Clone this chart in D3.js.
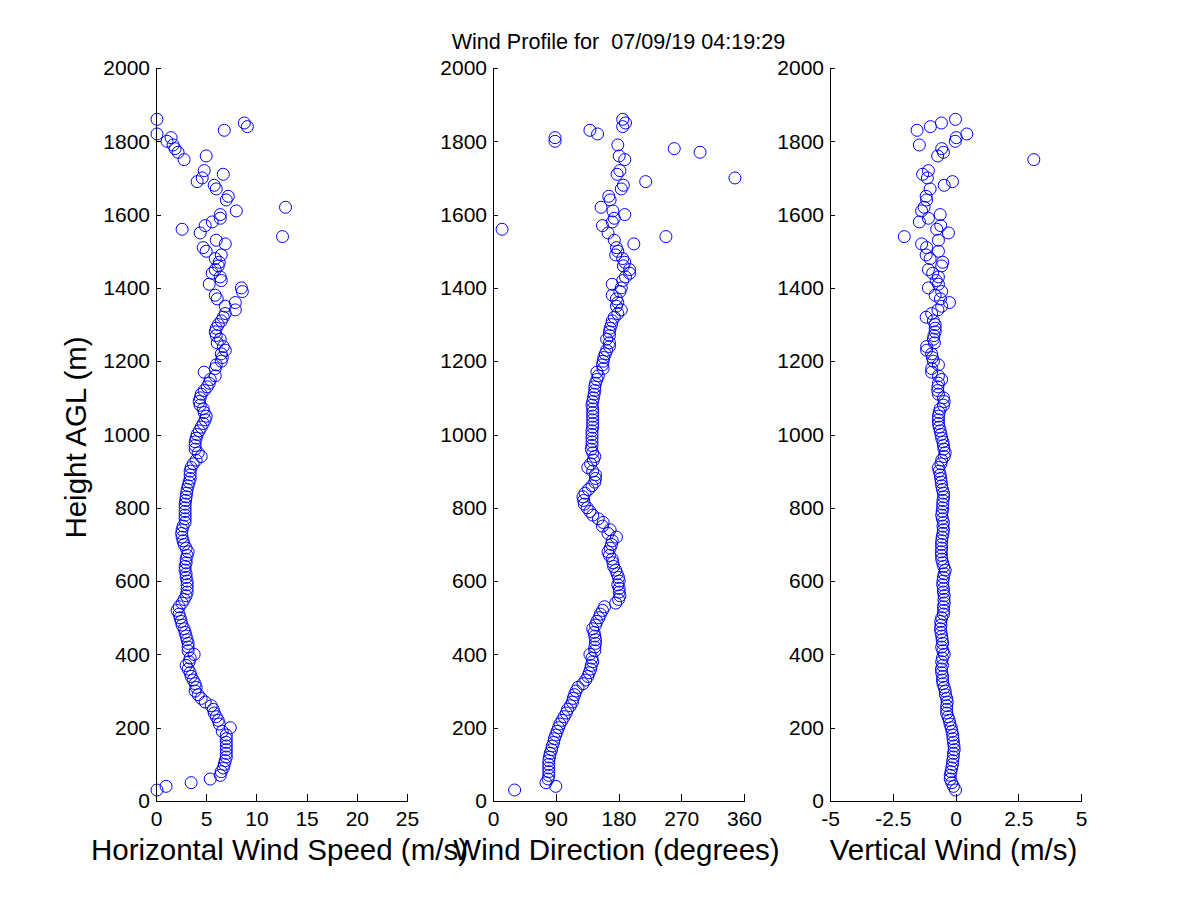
<!DOCTYPE html>
<html lang="en">
<head>
    <meta charset="UTF-8">
    <title>Wind Profile</title>
    <script src="https://d3js.org/d3.v7.min.js"></script>
    <style>
        body {
            margin: 0;
            background: #fff;
        }
        svg text {
            font-family: "Liberation Sans", Arial, Helvetica, sans-serif;
            fill: #000;
        }
        .axis path, .axis line {
            stroke: #000;
            shape-rendering: crispEdges;
        }
    </style>
</head>
<body>
    <div id="chart"></div>

    <script>
        // Heights AGL (m), one row per 100 m (some gates have no data)
        const heights = [
            30, 40, 50, 60, 70, 80, 90, 100,
            110, 120, 130, 140, 150, 160, 170, 180, 190, 200,
            210, 220, 230, 240, 250, 260, 270, 280, 290, 300,
            310, 320, 330, 340, 350, 360, 370, 380, 390, 400,
            410, 420, 430, 440, 450, 460, 470, 480, 490, 500,
            510, 520, 530, 540, 550, 560, 570, 580, 590, 600,
            610, 620, 630, 640, 650, 660, 670, 680, 690, 700,
            710, 720, 730, 740, 750, 760, 770, 780, 790, 800,
            810, 820, 830, 840, 850, 860, 870, 880, 890, 900,
            910, 920, 930, 940, 950, 960, 970, 980, 990, 1000,
            1010, 1020, 1030, 1040, 1050, 1060, 1070, 1080, 1090, 1100,
            1110, 1120, 1130, 1140, 1150, 1160, 1170, 1180, 1190, 1200,
            1210, 1220, 1230, 1240, 1250, 1260, 1270, 1280, 1290, 1300,
            1310, 1320, 1330, 1340, 1350, 1360, 1370, 1380, 1390, 1400,
            1410, 1420, 1430, 1440, 1450, 1460, 1470, 1480, 1490, 1500,
            1510, 1520, 1530, 1540, 1550, 1560, 1570, 1580, 1590, 1600,
            1610, 1620, 1640, 1650, 1670, 1680, 1690, 1700,
            1710, 1720, 1750, 1760, 1770, 1780, 1790, 1800,
            1810, 1820, 1830, 1840, 1850, 1860
        ];

        // Horizontal wind speed (m/s)
        const speed = [
            0.1, 1.0, 3.5, 5.4, 6.4, 6.5, 6.7, 6.8,
            6.9, 7.0, 7.0, 7.0, 7.0, 7.0, 7.0, 7.0, 6.6, 7.4,
            6.3, 6.2, 6.0, 5.8, 5.7, 5.5, 4.9, 4.5, 4.2, 3.9,
            4.0, 3.9, 3.7, 3.5, 3.4, 3.2, 3.0, 3.3, 3.4, 3.8,
            3.2, 3.2, 3.2, 3.1, 3.0, 2.9, 2.8, 2.6, 2.5, 2.4,
            2.3, 2.1, 2.3, 2.6, 2.8, 3.0, 3.1, 3.1, 3.1, 3.1,
            3.0, 3.0, 2.9, 2.9, 3.0, 3.0, 3.1, 3.2, 3.0, 2.8,
            2.7, 2.6, 2.55, 2.6, 2.7, 2.9, 2.9, 2.9, 2.9, 2.9,
            2.9, 2.95, 3.0, 3.05, 3.1, 3.2, 3.3, 3.4, 3.4, 3.4,
            3.5, 3.7, 4.0, 4.5, 4.2, 3.9, 3.9, 3.9, 4.0, 4.1,
            4.3, 4.5, 4.7, 4.9, 5.0, 4.8, 4.7, 4.4, 4.3, 4.4,
            4.5, 4.8, 5.1, 5.3, 5.4, 5.9, 4.8, 5.9, 6.0, 6.5,
            6.6, 6.5, 6.9, 6.7, 6.1, 6.4, 6.0, 5.9, 6.0, 6.2,
            6.5, 6.7, 6.9, 7.9, 6.9, 7.9, 6.1, 5.9, 8.6, 8.5,
            5.3, 6.5, 6.4, 5.6, 5.9, 6.2, 6.3, 5.9, 6.5, 5.0,
            4.7, 6.9, 6.0, 12.6, 4.4, 2.6, 4.9, 5.6, 6.4, 6.4,
            8.0, 12.9, 7.0, 7.2, 6.0, 5.8, 4.1, 4.6,
            6.7, 4.8, 2.8, 5.0, 2.2, 1.9, 1.7, 1.1,
            1.5, 0.1, 6.8, 9.1, 8.8, 0.1
        ];

        // Wind direction (degrees)
        const direction = [
            31, 90, 76, 79, 80, 80, 80, 80,
            80, 81, 82, 84, 85, 87, 88, 90, 92, 94,
            96, 99, 102, 105, 107, 111, 114, 115, 117, 119,
            122, 129, 133, 136, 138, 140, 141, 143, 142, 139,
            146, 146, 147, 147, 146, 145, 143, 147, 149, 152,
            154, 157, 160, 176, 180, 182, 181, 181, 179, 181,
            180, 178, 176, 173, 172, 171, 167, 165, 168, 170,
            171, 177, 165, 168, 157, 158, 151, 143, 139, 135,
            131, 130, 129, 132, 137, 142, 146, 147, 147, 143,
            136, 140, 144, 146, 143, 141, 142, 142, 142, 142,
            142, 143, 143, 143, 143, 143, 143, 142, 143, 144,
            145, 146, 146, 147, 149, 151, 149, 158, 157, 158,
            159, 161, 163, 167, 167, 163, 167, 167, 168, 170,
            171, 174, 179, 184, 177, 179, 177, 171, 182, 184,
            171, 186, 190, 196, 196, 187, 189, 186, 176, 179,
            177, 202, 174, 248, 165, 13, 157, 171, 174, 189,
            172, 155, 168, 166, 184, 187, 219, 347,
            178, 182, 189, 181, 297, 260, 179, 89,
            89, 150, 139, 186, 190, 186
        ];

        // Vertical wind (m/s)
        const vertical = [
            0.0, -0.08, -0.15, -0.21, -0.21, -0.18, -0.15, -0.12,
            -0.11, -0.09, -0.08, -0.05, -0.06, -0.08, -0.10, -0.11, -0.14, -0.17,
            -0.22, -0.25, -0.30, -0.35, -0.35, -0.35, -0.33, -0.35, -0.40, -0.41,
            -0.45, -0.50, -0.52, -0.51, -0.55, -0.56, -0.52, -0.55, -0.52, -0.45,
            -0.50, -0.55, -0.51, -0.53, -0.55, -0.58, -0.60, -0.58, -0.59, -0.55,
            -0.48, -0.47, -0.48, -0.45, -0.46, -0.45, -0.48, -0.48, -0.51, -0.50,
            -0.48, -0.45, -0.41, -0.47, -0.51, -0.55, -0.56, -0.57, -0.55, -0.56,
            -0.55, -0.53, -0.50, -0.48, -0.50, -0.48, -0.52, -0.55, -0.53, -0.51,
            -0.51, -0.50, -0.47, -0.48, -0.52, -0.55, -0.57, -0.59, -0.61, -0.65,
            -0.68, -0.58, -0.55, -0.45, -0.41, -0.46, -0.48, -0.50, -0.55, -0.58,
            -0.61, -0.65, -0.68, -0.68, -0.68, -0.65, -0.61, -0.48, -0.45, -0.48,
            -0.68, -0.71, -0.70, -0.68, -0.55, -0.68, -0.95, -0.95, -0.68, -0.88,
            -0.92, -0.95, -1.15, -1.15, -0.84, -0.88, -0.86, -0.81, -0.81, -0.81,
            -0.88, -1.17, -0.95, -0.70, -0.55, -0.24, -0.60, -0.81, -0.55, -1.08,
            -0.68, -0.77, -0.68, -0.91, -1.08, -0.55, -0.51, -1.01, -1.17, -0.68,
            -1.15, -1.35, -0.68, -2.04, -0.28, -0.75, -0.59, -1.44, -1.08, -0.61,
            -1.35, -1.25, -1.15, -1.17, -1.01, -0.45, -0.12, -1.12,
            -1.31, -1.08, 3.12, -0.71, -0.48, -0.55, -1.44, -0.01,
            0.03, 0.45, -1.53, -1.0, -0.56, 0.0
        ];

        const heightTicks = [0, 200, 400, 600, 800, 1000, 1200, 1400, 1600, 1800, 2000];
        const speedTicks = [0, 5, 10, 15, 20, 25];
        const directionTicks = [0, 90, 180, 270, 360];
        const verticalTicks = [-5, -2.5, 0, 2.5, 5];

        const titleText = "Wind Profile for  07/09/19 04:19:29";
        const yLabel = "Height AGL (m)";

        const width = 1200;
        const height = 900;
        const plotTop = 68;
        const plotBottom = 801;
        const plotWidth = 251;

        const panels = [
            { left: 156, values: speed, domain: [0, 25], ticks: speedTicks, label: "Horizontal Wind Speed (m/s)" },
            { left: 493, values: direction, domain: [0, 360], ticks: directionTicks, label: "Wind Direction (degrees)" },
            { left: 830, values: vertical, domain: [-5, 5], ticks: verticalTicks, label: "Vertical Wind (m/s)" }
        ];

        const svg = d3.select("#chart")
            .append("svg")
            .attr("width", width)
            .attr("height", height);

        const y = d3.scaleLinear()
            .domain([0, 2000])
            .range([plotBottom, plotTop]);

        panels.forEach(p => {
            const x = d3.scaleLinear()
                .domain(p.domain)
                .range([p.left, p.left + plotWidth]);

            // Data points as open circles
            svg.append("g")
                .selectAll("circle")
                .data(heights.map((h, i) => ({ h: h, v: p.values[i] })))
                .join("circle")
                .attr("cx", d => x(d.v))
                .attr("cy", d => y(d.h))
                .attr("r", 6)
                .attr("fill", "none")
                .attr("stroke", "#0000ff")
                .attr("stroke-width", 1);

            // Axes with inward ticks, no box
            svg.append("g")
                .attr("class", "axis")
                .attr("transform", `translate(0,${plotBottom})`)
                .call(d3.axisBottom(x)
                    .tickValues(p.ticks)
                    .tickFormat(d => String(d))
                    .tickSizeInner(-7)
                    .tickSizeOuter(0)
                    .tickPadding(10))
                .call(g => g.selectAll("text")
                    .style("font-size", "21px"));

            svg.append("g")
                .attr("class", "axis")
                .attr("transform", `translate(${p.left},0)`)
                .call(d3.axisLeft(y)
                    .tickValues(heightTicks)
                    .tickFormat(d => String(d))
                    .tickSizeInner(-5)
                    .tickSizeOuter(0)
                    .tickPadding(6))
                .call(g => g.selectAll("text")
                    .style("font-size", "21px"));

            svg.append("text")
                .attr("x", p.left + plotWidth / 2 - 2)
                .attr("y", 860)
                .attr("text-anchor", "middle")
                .style("font-size", "29.5px")
                .text(p.label);
        });

        svg.append("text")
            .attr("transform", `translate(86,${(plotTop + plotBottom) / 2 + 3}) rotate(-90)`)
            .attr("text-anchor", "middle")
            .style("font-size", "29.5px")
            .text(yLabel);

        svg.append("text")
            .attr("x", panels[1].left + plotWidth / 2)
            .attr("y", 49)
            .attr("text-anchor", "middle")
            .style("font-size", "21.6px")
            .style("white-space", "pre")
            .text(titleText);
    </script>
</body>
</html>
